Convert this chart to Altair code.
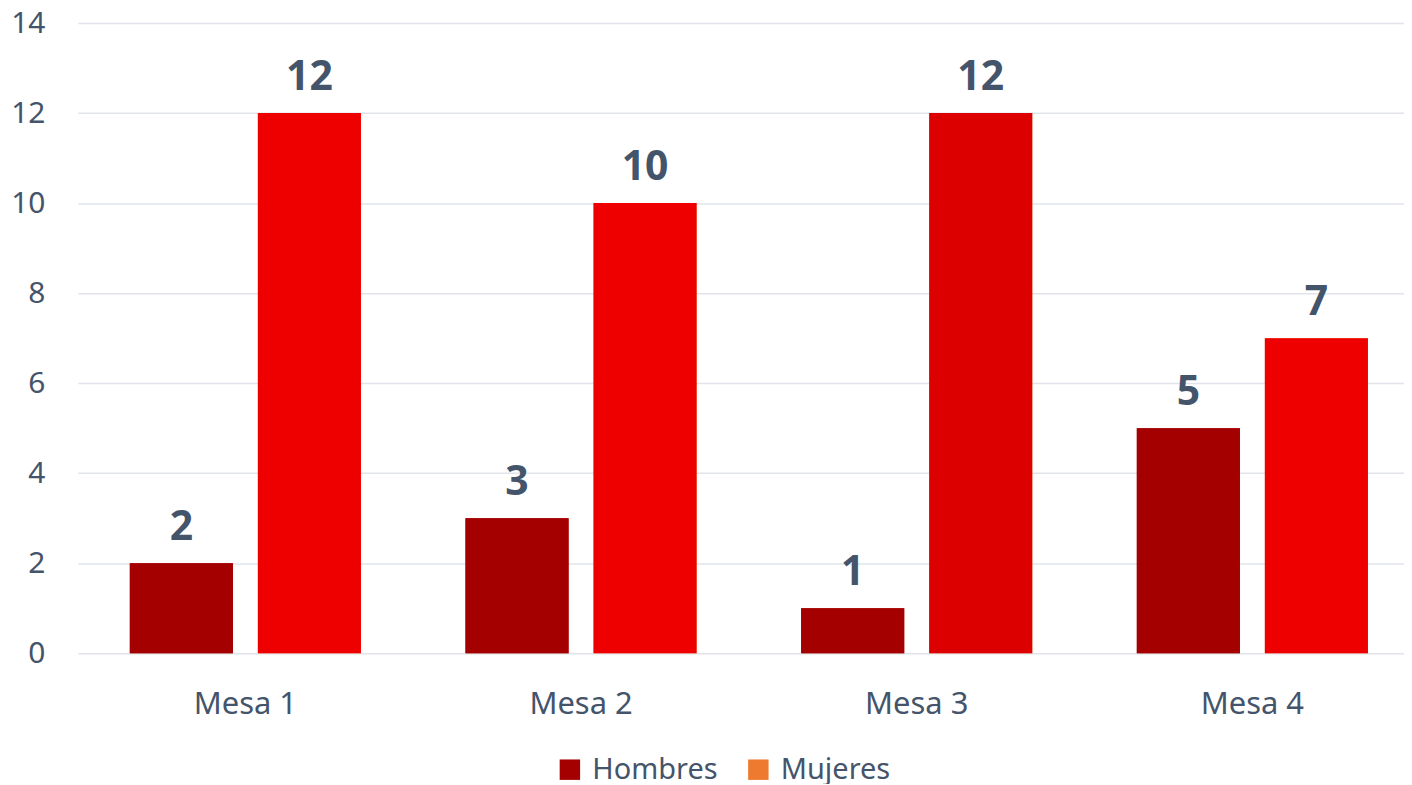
import altair as alt
import pandas as pd

mesas = ["Mesa 1", "Mesa 2", "Mesa 3", "Mesa 4"]
hombres = [2, 3, 1, 5]
mujeres = [12, 10, 12, 7]
series = ["Hombres", "Mujeres"]
hombres_colors = ["#A50000", "#A50000", "#A50000", "#A50000"]
mujeres_colors = ["#EE0000", "#EE0000", "#DD0000", "#EE0000"]
legend_colors = ["#A50000", "#EE7A30"]

rows = []
for i, m in enumerate(mesas):
    rows.append({"mesa": m, "serie": "Hombres", "valor": hombres[i], "fill": hombres_colors[i]})
    rows.append({"mesa": m, "serie": "Mujeres", "valor": mujeres[i], "fill": mujeres_colors[i]})
df = pd.DataFrame(rows)

FONT = "Noto Sans"
TXT = "#44546A"

x = alt.X("mesa:N", sort=mesas, title=None,
          scale=alt.Scale(paddingInner=0.3115, paddingOuter=0.155, range=[0, 1346]),
          axis=alt.Axis(labelAngle=0, labelFontSize=31, labelColor=TXT, labelFont=FONT,
                        ticks=False, domain=False, labelPadding=36, grid=False))
y = alt.Y("valor:Q", title=None,
          scale=alt.Scale(domain=[0, 14]),
          axis=alt.Axis(values=list(range(0, 15, 2)), labelFontSize=30, labelColor=TXT,
                        labelFont=FONT, ticks=False, domain=False, labelPadding=33,
                        gridColor="#E1E4EA", gridWidth=1.5))
xo = alt.XOffset("serie:N", sort=series, scale=alt.Scale(paddingInner=0.195, paddingOuter=0))

base = alt.Chart(df).encode(x=x, y=y, xOffset=xo)

legend_bars = base.mark_bar().encode(
    color=alt.Color("serie:N", sort=series,
                    scale=alt.Scale(domain=series, range=legend_colors),
                    legend=alt.Legend(title=None, orient="none", direction="horizontal",
                                      legendX=479, legendY=734, symbolType="square",
                                      symbolSize=420, symbolStrokeWidth=0,
                                      labelFontSize=29, labelColor=TXT, labelFont=FONT,
                                      columnPadding=26, labelOffset=8))
)
bars = base.mark_bar().encode(color=alt.Color("fill:N", scale=None))
labels = base.mark_text(baseline="bottom", dy=-14, fontSize=41, fontWeight="bold",
                        font=FONT, color=TXT).encode(text="valor:Q")

chart = (legend_bars + bars + labels).properties(
    width=1330, height=632,
    padding={"left": 70, "top": 14, "right": 0, "bottom": 130},
    autosize=alt.AutoSizeParams(type="none"),
).configure_view(stroke=None)

chart.save("out.html", embed_options={"renderer": "svg", "actions": False})
